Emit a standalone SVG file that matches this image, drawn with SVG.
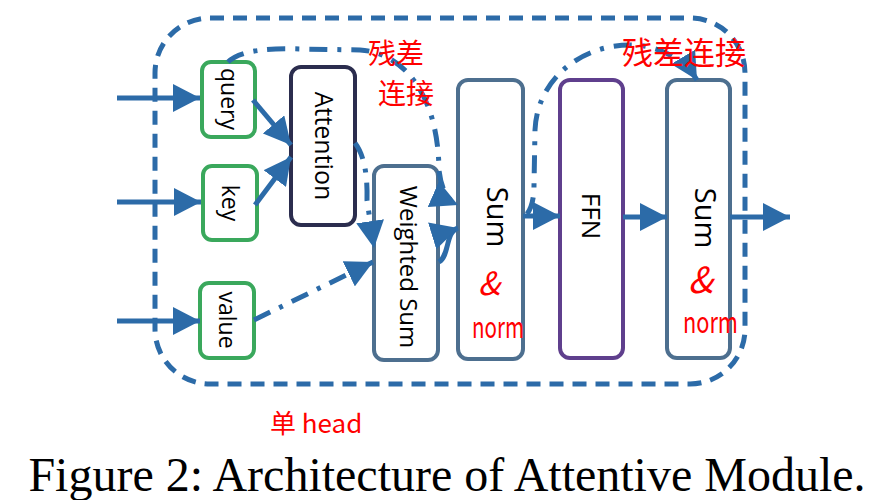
<svg xmlns="http://www.w3.org/2000/svg" width="896" height="500" viewBox="0 0 896 500">
<style>
.box{fill:#fff;stroke-width:4}
.in{stroke:#3aa85c}
.att{stroke:#2b2d4e}
.steel{stroke:#4d6f8f}
.ffn{stroke:#5f3f8d}
.lbl{font-family:"Open Sans","Liberation Sans",sans-serif;fill:#000;text-anchor:middle}
.hand{font-family:"Noto Sans CJK SC","Liberation Sans",sans-serif;fill:#ff0000}
.c{fill:none;stroke:#2c6ba8;stroke-width:5}
.dd{stroke-dasharray:18 10 4 10}
</style>
<defs>
<marker id="ah" markerUnits="userSpaceOnUse" markerWidth="28" markerHeight="28" refX="27" refY="14" orient="auto" viewBox="0 0 28 28">
<path d="M0,0 L27,14 L0,28 z" fill="#2c6ba8"/>
</marker>
</defs>
<rect width="896" height="500" fill="#fff"/>
<g id="border">
<rect x="155" y="18" width="590" height="366" rx="55" fill="none" stroke="#2c6ba8" stroke-width="5" stroke-dasharray="14 9"/>
</g>
<g id="query"><rect class="box in" x="202" y="62" width="53" height="75" rx="9"/>
<text class="lbl" font-size="23" transform="translate(229,99) rotate(90)" y="8">query</text></g>
<g id="key"><rect class="box in" x="203" y="166" width="54" height="74" rx="9"/>
<text class="lbl" font-size="23" transform="translate(230,203) rotate(90)" y="8">key</text></g>
<g id="value"><rect class="box in" x="200" y="283" width="54" height="75" rx="9"/>
<text class="lbl" font-size="23" transform="translate(227,320) rotate(90)" y="8">value</text></g>
<g id="attention"><rect class="box att" x="291" y="67" width="64" height="158" rx="10"/>
<text class="lbl" font-size="25" transform="translate(324,146) rotate(90)" y="9">Attention</text></g>
<g id="weighted-sum"><rect class="box steel" x="374" y="166" width="64" height="194" rx="10"/>
<text class="lbl" font-size="24" transform="translate(408,267) rotate(90)" y="8">Weighted Sum</text></g>
<g id="sum1"><rect class="box steel" x="458" y="80" width="65" height="279" rx="10"/>
<text class="lbl" font-size="29" transform="translate(497,217) rotate(90)" y="10">Sum</text>
<text class="hand" font-size="32" font-style="italic" x="478" y="295">&amp;</text>
<text class="hand" font-size="30" x="472" y="338" textLength="52" lengthAdjust="spacingAndGlyphs">norm</text></g>
<g id="ffn"><rect class="box ffn" x="560" y="80" width="63" height="278" rx="10"/>
<text class="lbl" font-size="26" transform="translate(591,216) rotate(90)" y="9">FFN</text></g>
<g id="sum2"><rect class="box steel" x="667" y="80" width="63" height="278" rx="10"/>
<text class="lbl" font-size="29" transform="translate(705,218) rotate(90)" y="10">Sum</text>
<text class="hand" font-size="36" font-style="italic" x="688" y="293">&amp;</text>
<text class="hand" font-size="30" x="683" y="333" textLength="55" lengthAdjust="spacingAndGlyphs">norm</text></g>
<g id="connectors">
<path class="c" d="M117,98 H200" marker-end="url(#ah)"/>
<path class="c" d="M117,202 H201" marker-end="url(#ah)"/>
<path class="c" d="M117,321 H200" marker-end="url(#ah)"/>
<path class="c" d="M253,100 L291,145" marker-end="url(#ah)"/>
<path class="c" d="M255,205 L291,157" marker-end="url(#ah)"/>
<path class="c dd" d="M355,143 Q368,160 367,200 L374,248" marker-end="url(#ah)"/>
<path class="c dd" d="M254,320 L373,262" marker-end="url(#ah)"/>
<path class="c dd" d="M228,62 C240,50 270,48 300,49 L360,50 C400,52 438,90 439,170 Q442,198 458,205" marker-end="url(#ah)"/>
<path class="c" d="M439,262 C450,255 445,232 458,228" marker-end="url(#ah)"/>
<path class="c" d="M523,216 L560,216" marker-end="url(#ah)"/>
<path class="c dd" d="M527,214 Q534,205 534,185 L535,130 C537,80 580,45 630,45 C660,45 685,60 697,80" marker-end="url(#ah)"/>
<path class="c" d="M623,217 L667,217" marker-end="url(#ah)"/>
<path class="c" d="M730,217 L790,217" marker-end="url(#ah)"/>
</g>
<g id="annotations">
<text class="hand" font-size="28" x="368" y="64">残差</text>
<text class="hand" font-size="28" x="378" y="104">连接</text>
<text class="hand" font-size="31" x="622" y="64">残差连接</text>
<text class="hand" font-size="26" x="270" y="433">单 head</text>
</g>
<text x="447" y="491" font-family="Liberation Serif,'Times New Roman',serif" font-size="48" text-anchor="middle" fill="#000">Figure 2: Architecture of Attentive Module.</text>
</svg>
